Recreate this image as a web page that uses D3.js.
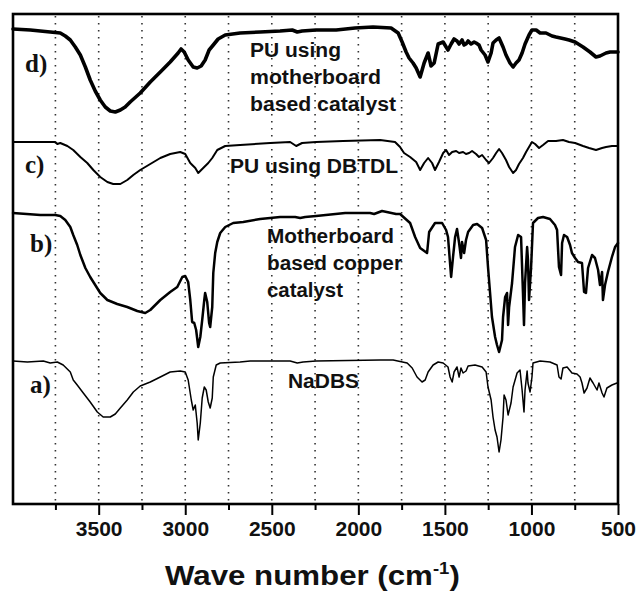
<!DOCTYPE html>
<html>
<head>
<meta charset="utf-8">
<script src="https://cdn.jsdelivr.net/npm/d3@7/dist/d3.min.js"></script>
<style>
  html, body { margin: 0; padding: 0; background: #fff; }
  svg { display: block; }
</style>
</head>
<body>
<div id="chart"></div>
<script>
// ---- Data: FTIR spectra, [wavenumber (cm-1), stacked transmittance (a.u.)] ----
const spectrumD = [[3995,475],[3895,474],[3780,472],[3722,471],[3693,468],[3664,464],[3635,457],[3606,449],[3577,437],[3549,424],[3520,413],[3491,404],[3462,397],[3433,393],[3404,392],[3375,394],[3347,397],[3318,402],[3260,411],[3202,422],[3144,432],[3087,442],[3041,451],[3024,455],[3006,452],[2983,444],[2954,437],[2931,436],[2908,438],[2885,444],[2862,454],[2838,459],[2810,465],[2769,469],[2683,471],[2567,472],[2452,473],[2382,474],[2353,472],[2325,473],[2244,474],[2128,474],[2019,476],[1915,477],[1811,476],[1770,471],[1747,462],[1724,452],[1707,446],[1684,441],[1666,436],[1643,427],[1620,441],[1597,451],[1580,438],[1562,441],[1539,460],[1510,462],[1493,457],[1482,454],[1464,460],[1447,465],[1430,463],[1418,460],[1401,464],[1389,459],[1378,460],[1366,463],[1349,460],[1331,462],[1320,461],[1303,459],[1291,454],[1268,449],[1251,442],[1233,451],[1222,461],[1204,464],[1187,466],[1164,457],[1147,449],[1124,441],[1106,437],[1089,441],[1072,444],[1054,451],[1037,460],[1014,469],[997,474],[973,474],[950,471],[916,471],[881,468],[858,467],[806,465],[783,464],[748,462],[702,457],[662,452],[627,447],[604,448],[569,451],[546,452],[500,452]];

const spectrumC = [[3995,362],[3780,362],[3751,362],[3739,360],[3722,361],[3681,358],[3647,354],[3606,347],[3566,341],[3531,334],[3491,327],[3450,322],[3416,320],[3375,320],[3335,324],[3300,329],[3260,334],[3202,340],[3144,346],[3087,350],[3029,352],[3000,350],[2971,341],[2942,336],[2925,331],[2902,335],[2867,341],[2844,346],[2815,354],[2769,358],[2683,359],[2509,361],[2394,362],[2359,358],[2325,361],[2244,362],[2088,363],[1874,364],[1788,362],[1759,357],[1736,351],[1701,347],[1666,342],[1643,334],[1620,341],[1597,346],[1574,341],[1557,334],[1534,342],[1510,351],[1493,354],[1476,349],[1458,352],[1435,353],[1418,351],[1395,352],[1378,350],[1360,351],[1343,353],[1320,350],[1303,347],[1285,349],[1262,344],[1245,341],[1222,346],[1204,351],[1187,355],[1170,351],[1147,344],[1129,337],[1106,331],[1089,334],[1072,340],[1049,346],[1031,352],[1014,357],[997,362],[979,360],[956,356],[933,359],[904,363],[858,363],[818,364],[783,362],[748,361],[702,358],[667,356],[627,354],[592,356],[569,357],[535,358],[500,358]];

const spectrumB = [[3995,291],[3837,289],[3751,289],[3722,288],[3693,284],[3664,277],[3647,269],[3624,259],[3606,249],[3577,236],[3549,227],[3520,219],[3491,211],[3450,204],[3393,200],[3335,197],[3277,193],[3231,191],[3202,194],[3144,204],[3087,212],[3046,217],[3017,227],[3000,228],[2983,222],[2971,204],[2960,182],[2948,181],[2937,174],[2925,157],[2913,167],[2902,184],[2890,204],[2885,211],[2873,202],[2862,181],[2856,177],[2844,197],[2838,231],[2827,251],[2815,262],[2798,271],[2769,277],[2723,281],[2665,282],[2567,285],[2452,287],[2365,287],[2336,286],[2307,287],[2244,288],[2076,291],[1932,291],[1909,290],[1863,293],[1782,290],[1759,290],[1701,281],[1672,267],[1643,256],[1603,251],[1591,272],[1557,281],[1516,281],[1493,274],[1482,267],[1464,227],[1453,247],[1441,267],[1430,275],[1418,261],[1407,246],[1401,262],[1389,251],[1378,264],[1366,272],[1337,279],[1314,280],[1285,276],[1262,264],[1251,237],[1239,211],[1228,187],[1210,167],[1199,159],[1187,152],[1170,164],[1164,187],[1152,207],[1141,211],[1135,179],[1129,197],[1112,221],[1095,257],[1077,269],[1060,267],[1049,211],[1043,179],[1037,221],[1025,257],[1020,244],[1014,204],[1002,237],[991,281],[962,286],[933,287],[893,285],[864,279],[852,274],[841,237],[829,229],[823,261],[812,269],[794,267],[777,259],[766,251],[748,246],[731,242],[708,241],[696,212],[685,211],[673,236],[650,249],[633,246],[615,234],[604,219],[592,232],[587,204],[575,219],[558,232],[535,247],[517,257],[500,261]];

const spectrumA = [[3995,143],[3912,142],[3820,143],[3780,141],[3739,142],[3705,139],[3664,132],[3647,124],[3624,119],[3589,111],[3549,102],[3508,92],[3474,87],[3433,87],[3404,90],[3375,96],[3335,104],[3300,112],[3260,118],[3202,122],[3144,127],[3087,132],[3029,133],[3000,132],[2983,124],[2965,104],[2954,94],[2942,99],[2931,81],[2925,64],[2913,81],[2902,106],[2890,117],[2879,114],[2867,102],[2856,96],[2844,106],[2838,127],[2821,139],[2798,141],[2683,142],[2625,143],[2394,143],[2353,141],[2319,142],[2244,143],[1874,144],[1799,144],[1718,141],[1689,136],[1661,127],[1632,122],[1614,124],[1597,132],[1568,139],[1539,142],[1510,141],[1482,137],[1470,127],[1458,122],[1447,132],[1430,137],[1418,127],[1407,136],[1395,131],[1378,133],[1366,138],[1326,139],[1285,137],[1262,132],[1251,117],[1233,104],[1222,87],[1210,74],[1199,67],[1187,52],[1176,64],[1164,87],[1158,109],[1147,104],[1135,89],[1118,101],[1106,117],[1083,131],[1066,134],[1054,114],[1043,92],[1037,114],[1025,133],[1020,121],[1008,112],[997,127],[991,141],[950,143],[893,142],[852,139],[841,127],[829,125],[818,136],[794,137],[766,131],[737,130],[719,127],[708,121],[696,111],[679,116],[662,126],[644,121],[621,114],[610,121],[592,111],[581,107],[564,116],[535,119],[506,121],[500,121]];

const majorTicks = [3500, 3000, 2500, 2000, 1500, 1000, 500];
const minorTicks = [3750, 3250, 2750, 2250, 1750, 1250, 750];
const gridValues = [3750, 3500, 3250, 3000, 2750, 2500, 2250, 2000, 1750, 1500, 1250, 1000, 750];
const xTitle = "Wave number (cm";
const seriesLabels = ["d)", "c)", "b)", "a)"];
const annotations = [
  ["PU using", "motherboard", "based catalyst"],
  ["PU using DBTDL"],
  ["Motherboard", "based copper", "catalyst"],
  ["NaDBS"]
];

// ---- Layout ----
const W = 636, H = 593;
const m = { left: 13, right: 18, top: 14, bottom: 89 };
const iw = W - m.left - m.right, ih = H - m.top - m.bottom;

const svg = d3.select("#chart").append("svg").attr("width", W).attr("height", H);
const g = svg.append("g").attr("transform", `translate(${m.left},${m.top})`);

const x = d3.scaleLinear().domain([3995, 500]).range([0, iw]);
const y = d3.scaleLinear().domain([0, 490]).range([ih, 0]);

// grid lines (dotted)
g.append("g").selectAll("line").data(gridValues).join("line")
  .attr("x1", d => x(d)).attr("x2", d => x(d))
  .attr("y1", 2).attr("y2", ih)
  .attr("stroke", "#333").attr("stroke-width", 1.6)
  .attr("stroke-dasharray", "1.6 5.4");

// spectra
const line = d3.line().x(d => x(d[0])).y(d => y(d[1]));
const series = [
  { data: spectrumD, w: 3.6 },
  { data: spectrumC, w: 2.0 },
  { data: spectrumB, w: 2.5 },
  { data: spectrumA, w: 1.5 }
];
g.append("g").selectAll("path").data(series).join("path")
  .attr("d", d => line(d.data))
  .attr("fill", "none").attr("stroke", "#000")
  .attr("stroke-width", d => d.w)
  .attr("stroke-linejoin", "round").attr("stroke-linecap", "round");

// frame
g.append("rect").attr("x", 0).attr("y", 0).attr("width", iw).attr("height", ih)
  .attr("fill", "none").attr("stroke", "#000").attr("stroke-width", 2.6);

// x axis
const xAxis = d3.axisBottom(x).tickValues(majorTicks).tickSize(11).tickPadding(6)
  .tickFormat(d3.format("d"));
const ax = g.append("g").attr("transform", `translate(0,${ih})`).call(xAxis);
ax.select(".domain").remove();
ax.selectAll(".tick line").attr("stroke", "#000").attr("stroke-width", 2);
ax.selectAll(".tick text")
  .attr("font-family", "'Liberation Sans', Arial, sans-serif")
  .attr("font-weight", "bold").attr("font-size", 21).attr("fill", "#111");

const xMinor = d3.axisBottom(x).tickValues(minorTicks).tickSize(6).tickFormat("");
const axm = g.append("g").attr("transform", `translate(0,${ih})`).call(xMinor);
axm.select(".domain").remove();
axm.selectAll(".tick line").attr("stroke", "#000").attr("stroke-width", 2);

// axis title
const title = svg.append("text")
  .attr("x", 165).attr("y", 585)
  .attr("font-family", "'Liberation Sans', Arial, sans-serif")
  .attr("font-weight", "bold").attr("font-size", 27).attr("fill", "#111");
title.append("tspan").text(xTitle);
title.append("tspan").attr("font-size", 16).attr("dy", -11).text("-1");
title.append("tspan").attr("dy", 11).text(")");
// stretch to match measured width
(function () {
  const bb = title.node().getBBox();
  const target = 295;
  const s = target / bb.width;
  title.attr("transform", `translate(${165 - 165 * s},0) scale(${s},1)`);
})();

// series labels (serif)
const labelPos = [[25, 72], [25, 173], [30, 252], [30, 393]];
svg.append("g").selectAll("text").data(seriesLabels).join("text")
  .attr("x", (d, i) => labelPos[i][0]).attr("y", (d, i) => labelPos[i][1])
  .attr("font-family", "'Liberation Serif', 'Times New Roman', serif")
  .attr("font-weight", "bold").attr("font-size", 25).attr("fill", "#111")
  .text(d => d);

// annotations
const annPos = [[250, 57], [230, 173], [267, 243], [288, 388]];
const annWidths = [[91, 131, 146], [168], [127, 135, 76], [71]];
annotations.forEach((lines, i) => {
  lines.forEach((t, j) => {
    svg.append("text")
      .attr("x", annPos[i][0]).attr("y", annPos[i][1] + j * 27)
      .attr("font-family", "'Liberation Sans', Arial, sans-serif")
      .attr("font-weight", "bold").attr("font-size", 19.5).attr("fill", "#111")
      .attr("textLength", annWidths[i][j]).attr("lengthAdjust", "spacingAndGlyphs")
      .text(t);
  });
});
</script>
</body>
</html>
